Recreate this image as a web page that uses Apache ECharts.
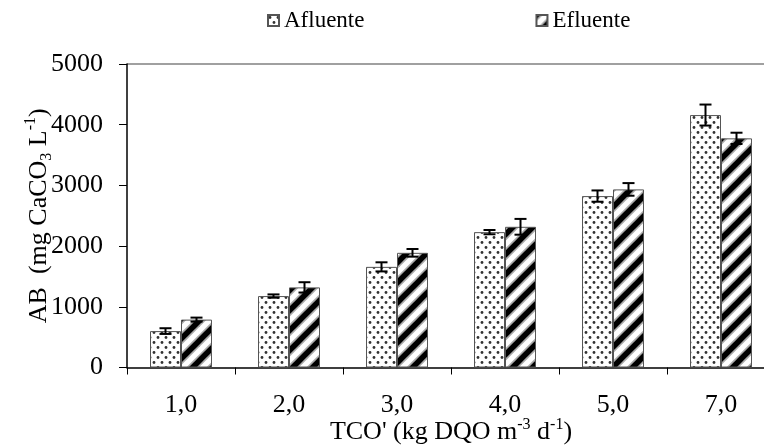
<!DOCTYPE html>
<html><head><meta charset="utf-8">
<script src="https://cdn.jsdelivr.net/npm/echarts@6/dist/echarts.min.js"></script>
<style>html,body{margin:0;padding:0;background:#fff}#c{width:764px;height:447px}</style>
</head><body><div id="c"></div>
<script>
const categories = ['1,0','2,0','3,0','4,0','5,0','7,0'];
const afluente = [600,1177,1658,2230,2824,4159];
const afluenteErr = [47,27,75,35,93,173];
const efluente = [789,1320,1889,2318,2934,3775];
const efluenteErr = [33,85,63,130,104,93];
const yMin = 0, yMax = 5000, yStep = 1000;

const FONT = '"Liberation Serif","Times New Roman",serif';

function dotPattern(){
  const c=document.createElement('canvas'); c.width=8; c.height=10;
  const g=c.getContext('2d'); g.fillStyle='#fff'; g.fillRect(0,0,8,10);
  g.fillStyle='#333';
  [[2,2.5],[6,7.5]].forEach(function(p){g.beginPath(); g.arc(p[0],p[1],1.4,0,Math.PI*2); g.fill();});
  return c;
}
function stripePattern(){
  const P=20; const c=document.createElement('canvas'); c.width=P; c.height=P;
  const g=c.getContext('2d'); g.fillStyle='#fff'; g.fillRect(0,0,P,P);
  function draw(w,col){
    g.strokeStyle=col; g.lineWidth=w;
    [0,P,2*P].forEach(function(k){g.beginPath(); g.moveTo(k-2*P,2*P); g.lineTo(k+P,-P); g.stroke();});
  }
  draw(9,'#aaa'); draw(5.5,'#000');
  return c;
}

const BW = 31;
function errRender(sign){
  return function(params, api){
    const i=api.value(0), v=api.value(1), e=api.value(2);
    const hi=api.coord([i,v+e]), lo=api.coord([i,v-e]);
    const x=hi[0]+sign*BW/2, cap=6;
    const st={stroke:'#000', lineWidth:2};
    return {type:'group', children:[
      {type:'line', shape:{x1:x,y1:hi[1],x2:x,y2:lo[1]}, style:st},
      {type:'line', shape:{x1:x-cap,y1:hi[1],x2:x+cap,y2:hi[1]}, style:st},
      {type:'line', shape:{x1:x-cap,y1:lo[1],x2:x+cap,y2:lo[1]}, style:st}
    ]};
  };
}

const chart = echarts.init(document.getElementById('c'), null, {renderer:'canvas'});
chart.setOption({
  animation:false,
  backgroundColor:'#fff',
  legend:{
    data:['Afluente','Efluente'], left:262, top:4, itemWidth:11, itemHeight:11, itemGap:171,
    icon:'rect', selectedMode:false,
    textStyle:{fontFamily:FONT, fontSize:23, color:'#000'}
  },
  grid:{left:127, right:-11, top:64, bottom:79.5, containLabel:false, outerBoundsMode:'none'},
  xAxis:{
    type:'category', data:categories,
    axisLine:{lineStyle:{color:'#000', width:1.5}},
    axisTick:{show:true, alignWithLabel:false, length:7, lineStyle:{color:'#000', width:1}},
    axisLabel:{fontFamily:FONT, fontSize:26, color:'#000', margin:25},
    name:"TCO' (kg DQO m{sup|-3} d{sup|-1})", nameLocation:'middle', nameGap:49, nameMoveOverlap:false,
    nameTextStyle:{fontFamily:FONT, fontSize:26, color:'#000', lineHeight:32,
      rich:{sup:{fontFamily:FONT, fontSize:16, color:'#000', verticalAlign:'top', lineHeight:16}}}
  },
  yAxis:{
    type:'value', min:yMin, max:yMax, interval:yStep,
    axisLine:{show:true, lineStyle:{color:'#000', width:1.5}},
    axisTick:{show:true, length:8, lineStyle:{color:'#000', width:1}},
    axisLabel:{fontFamily:FONT, fontSize:26, color:'#000', margin:24, formatter:function(v){return String(v);}},
    splitLine:{show:true, lineStyle:{color:['rgba(0,0,0,0)','rgba(0,0,0,0)','rgba(0,0,0,0)','rgba(0,0,0,0)','rgba(0,0,0,0)','#808080'], width:1.5}},
    name:'AB  (mg CaCO{sub|3} L{sup|-1})', nameLocation:'middle', nameRotate:90, nameGap:72, nameMoveOverlap:false,
    nameTextStyle:{fontFamily:FONT, fontSize:26, color:'#000', lineHeight:32,
      rich:{
        sup:{fontFamily:FONT, fontSize:16, color:'#000', verticalAlign:'top', lineHeight:16},
        sub:{fontFamily:FONT, fontSize:16, color:'#000', verticalAlign:'bottom', lineHeight:16}
      }}
  },
  series:[
    {name:'Afluente', type:'bar', data:afluente, barWidth:BW, barGap:'0%',
      itemStyle:{color:{image:dotPattern(), repeat:'repeat'}, borderColor:'#555', borderWidth:1},
      emphasis:{disabled:true}},
    {name:'Efluente', type:'bar', data:efluente, barWidth:BW, barGap:'0%',
      itemStyle:{color:{image:stripePattern(), repeat:'repeat'}, borderColor:'#555', borderWidth:1},
      emphasis:{disabled:true}},
    {name:'errA', type:'custom', renderItem:errRender(-1), z:10,
      data:categories.map(function(c,i){return [i, afluente[i], afluenteErr[i]];})},
    {name:'errE', type:'custom', renderItem:errRender(1), z:10,
      data:categories.map(function(c,i){return [i, efluente[i], efluenteErr[i]];})}
  ]
});
</script></body></html>
